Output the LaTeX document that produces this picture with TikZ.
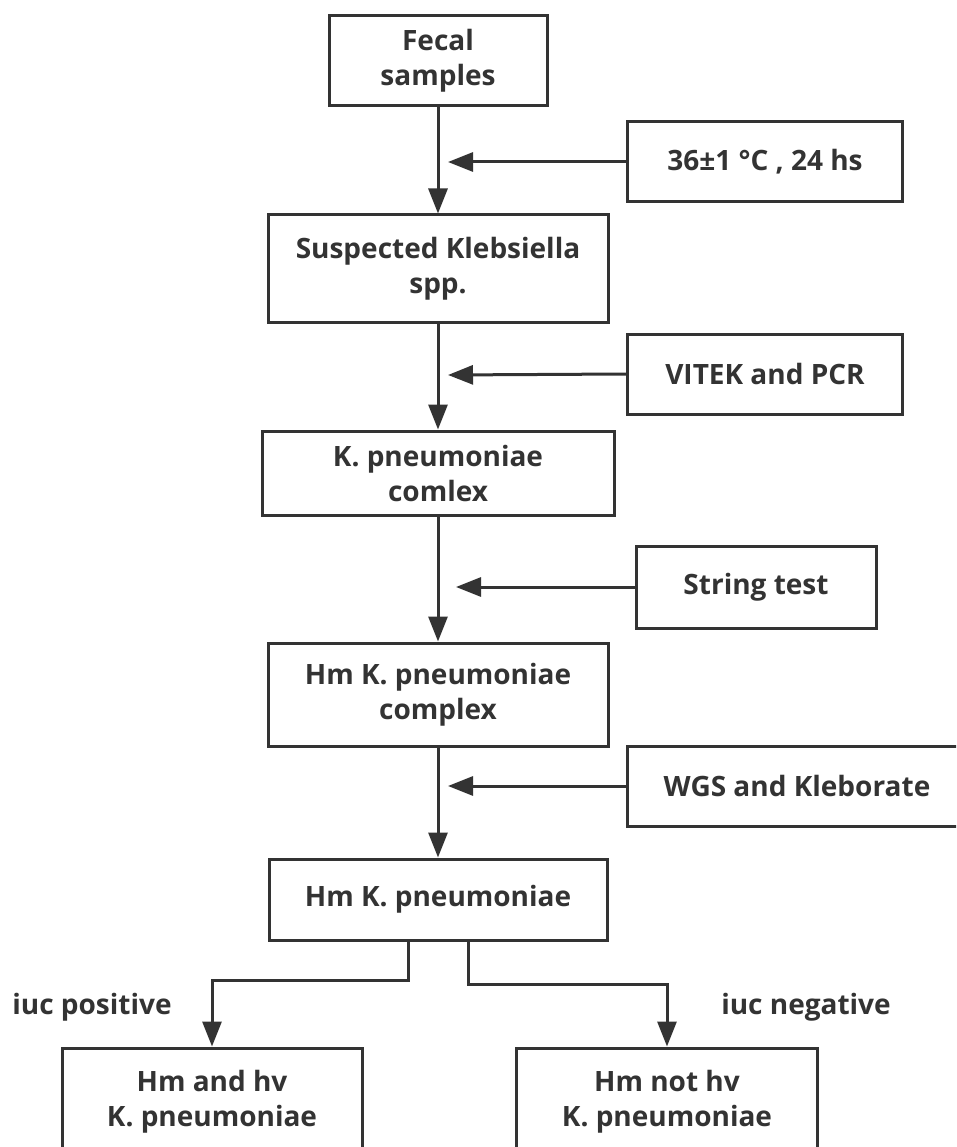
\documentclass[tikz,border=0pt]{standalone}
\usepackage{fontspec}
\setmainfont{Open Sans}
\usetikzlibrary{arrows.meta}
\definecolor{ink}{HTML}{333333}
\begin{document}
\begin{tikzpicture}[x=1pt,y=-1pt,
  box/.style={draw=ink, line width=3pt, text=ink, align=center, inner sep=0pt,
    font=\fontsize{28}{35}\selectfont\bfseries},
  lbl/.style={text=ink, inner sep=0pt, font=\fontsize{28}{35}\selectfont\bfseries},
  conn/.style={draw=ink, line width=3pt, -{Triangle[length=25pt,width=19pt]}}]
\useasboundingbox (0,0) rectangle (956,1147);
\clip (0,0) rectangle (956,1147);
\node[box, minimum width=218, minimum height=90] (fecal) at (438,61) {Fecal\\samples};
\node[box, minimum width=275, minimum height=80] (temp) at (765,162) {36±1 °C , 24 hs};
\node[box, minimum width=340, minimum height=107] (susp) at (438,268.5) {Suspected Klebsiella\\spp.};
\node[box, minimum width=275, minimum height=80] (vitek) at (765,374) {VITEK and PCR};
\node[box, minimum width=352, minimum height=84] (kpc) at (438,473) {K. pneumoniae\\comlex};
\node[box, minimum width=240, minimum height=82] (string) at (756,587) {String test};
\node[box, minimum width=340, minimum height=103] (hmkc) at (438,694.5) {Hm K. pneumoniae\\complex};
\node[box, minimum width=340, minimum height=80] (wgs) at (797,786) {WGS and Kleborate};
\node[box, minimum width=338, minimum height=81] (hmk) at (438,899.5) {Hm K. pneumoniae};
\node[box, minimum width=300, minimum height=108] (pos) at (212,1102) {Hm and hv\\K. pneumoniae};
\node[box, minimum width=301, minimum height=108] (neg) at (667,1102) {Hm not hv\\K. pneumoniae};
\node[lbl] (lpos) at (92,1007) {iuc positive};
\node[lbl] (lneg) at (806,1007) {iuc negative};
\coordinate (c1) at (448,162);
\coordinate (c2) at (448,375);
\coordinate (c3) at (456,587);
\coordinate (c4) at (448,786);
\coordinate (b1) at (408,940);
\coordinate (b2) at (468,940);
\draw[conn] (fecal.south) -- (susp.north);
\draw[conn] (susp.south) -- (kpc.north);
\draw[conn] (kpc.south) -- (hmkc.north);
\draw[conn] (hmkc.south) -- (hmk.north);
\draw[conn] (temp.west) -- (c1);
\draw[conn] (vitek.west) -- (c2);
\draw[conn] (string.west) -- (c3);
\draw[conn] (wgs.west) -- (c4);
\draw[conn] (b1) -- ++(0,40) -| (pos.north);
\draw[conn] (b2) -- ++(0,44) -| (neg.north);
\end{tikzpicture}
\end{document}
